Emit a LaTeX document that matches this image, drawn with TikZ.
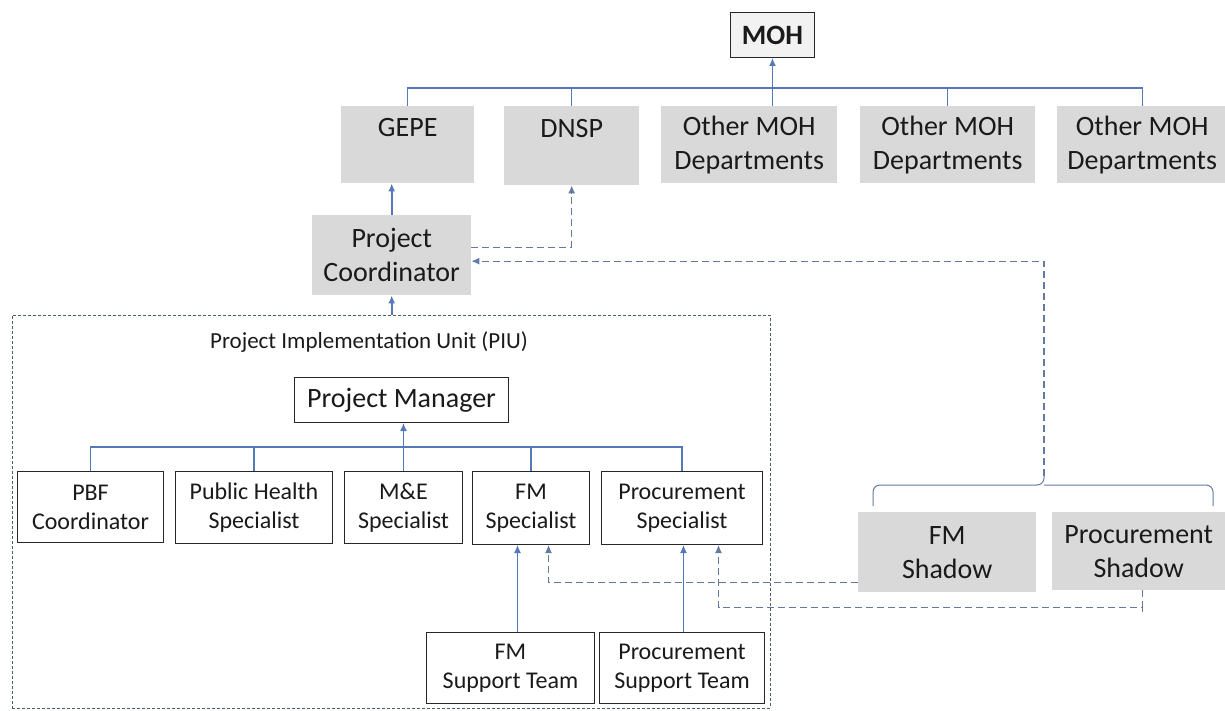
\documentclass[tikz,border=0pt]{standalone}
\usepackage{fontspec}
\setmainfont{Carlito}
\usetikzlibrary{arrows.meta,calc}
\definecolor{connblue}{HTML}{5579B8}
\definecolor{dashblue}{HTML}{6479A0}
\definecolor{boxgray}{HTML}{D9D9D9}
\definecolor{piugray}{HTML}{4E5B6E}
\definecolor{txt}{HTML}{1A1A1A}
\begin{document}
\begin{tikzpicture}[x=1pt,y=-1pt,
  every node/.style={font=\fontsize{24}{29}\selectfont, align=center, inner sep=0pt, text=txt},
  bigtext/.style={font=\fontsize{28}{34}\selectfont},
  graybox/.style={fill=boxgray, anchor=north west, bigtext},
  whitebox/.style={draw=black!85, line width=1pt, fill=white, anchor=north west},
  conn/.style={draw=connblue, line width=1.3pt},
  arr/.style={-{Latex[length=8pt,width=7pt]}},
  dconn/.style={draw=dashblue, line width=1.1pt, dash pattern=on 7pt off 4pt},
  piubox/.style={draw=piugray, line width=0.9pt, dash pattern=on 3pt off 2pt, anchor=north west},
  bracket/.style={draw=dashblue, line width=1pt, rounded corners=7pt},
]
\useasboundingbox (0,0) rectangle (1225,711);

% top level
\node[draw=black!85, line width=1pt, fill=black!5, anchor=north west, minimum width=84, minimum height=45,
      font=\fontsize{28}{32}\selectfont\bfseries] (moh) at (730,12) {MOH};
\node[graybox, minimum width=133, minimum height=77] (gepe) at (341,106) {GEPE\\\mbox{}};
\node[graybox, minimum width=135, minimum height=79] (dnsp) at (504,106) {DNSP\\\mbox{}};
\node[graybox, minimum width=176, minimum height=77] (o1) at (661,106) {Other MOH\\Departments};
\node[graybox, minimum width=175, minimum height=77] (o2) at (860,106) {Other MOH\\Departments};
\node[graybox, minimum width=170, minimum height=77] (o3) at (1057,106) {Other MOH\\Departments};
\node[graybox, minimum width=159, minimum height=80] (pc) at (312,215) {Project\\Coordinator};

% PIU
\node[piubox, minimum width=758, minimum height=393] (piu) at (12,315) {};
\node[anchor=base, font=\fontsize{23}{28}\selectfont] (piulabel) at (369,348) {Project Implementation Unit (PIU)};
\node[whitebox, bigtext, minimum width=214, minimum height=45] (pm) at (294,377) {Project Manager};
\node[whitebox, minimum width=146, minimum height=71] (pbf) at (17,471) {PBF\\Coordinator};
\node[whitebox, minimum width=157, minimum height=72] (ph) at (175,471) {Public Health\\Specialist};
\node[whitebox, minimum width=118, minimum height=72] (me) at (344,471) {M\&E\\Specialist};
\node[whitebox, minimum width=117, minimum height=73] (fmspec) at (472,471) {FM\\Specialist};
\node[whitebox, minimum width=161, minimum height=73] (procspec) at (601,471) {Procurement\\Specialist};
\node[whitebox, minimum width=168, minimum height=71] (fmst) at (426,632) {FM\\Support Team};
\node[whitebox, minimum width=165, minimum height=71] (procst) at (599,632) {Procurement\\Support Team};

% shadows
\node[graybox, minimum width=178, minimum height=80] (fmsh) at (858,512) {FM\\Shadow};
\node[graybox, minimum width=173, minimum height=78] (procsh) at (1052,512) {Procurement\\Shadow};

% buses
\coordinate (bus1) at (0,88);
\coordinate (bus2) at (0,447);
\draw[conn] (gepe.north) -- (gepe.north |- bus1) -- (o3.north |- bus1) -- (o3.north);
\draw[conn] (dnsp.north) -- (dnsp.north |- bus1);
\draw[conn] (o2.north) -- (o2.north |- bus1);
\draw[conn,arr] (moh.south |- o1.north) -- (moh.south);

\draw[conn,line width=1.8pt,arr] (pc.north) -- (pc.north |- gepe.south);
\draw[dconn,arr] ([yshift=8pt]pc.east) -| (dnsp.south);
\draw[conn,line width=1.8pt,arr] (pc.south |- piu.north) -- (pc.south);

\draw[conn] (pbf.north) -- (pbf.north |- bus2) -- (procspec.north |- bus2) -- (procspec.north);
\draw[conn] (ph.north) -- (ph.north |- bus2);
\draw[conn] (fmspec.north) -- (fmspec.north |- bus2);
\draw[conn,arr] (me.north) -- (me.north |- pm.south);

\draw[conn,arr] ([xshift=7pt]fmst.north) -- ([xshift=7pt]fmst.north |- fmspec.south);
\draw[conn,arr] ([xshift=1.5pt]procst.north) -- ([xshift=1.5pt]procst.north |- procspec.south);

% shadow links
\draw[dconn,arr] ([yshift=-30pt]fmsh.west) -| ([xshift=17.5pt]fmspec.south);
\draw[dconn,arr] ([xshift=3.5pt]procsh.south) -- ++(0,17) -| ([xshift=36.5pt]procspec.south);
\draw[dconn] ([xshift=3.5pt]procsh.south) ++(0,15) -- ++(0,7);

% bracket
\coordinate (brtip) at (1044,476);
\draw[bracket] (873,506) -- (873,485) -- (1044,485) -- (brtip);
\draw[bracket] (1213,506) -- (1213,485) -- (1044,485);
\draw[dconn,arr] (brtip) |- ([yshift=-6pt]pc.east);
\end{tikzpicture}
\end{document}
